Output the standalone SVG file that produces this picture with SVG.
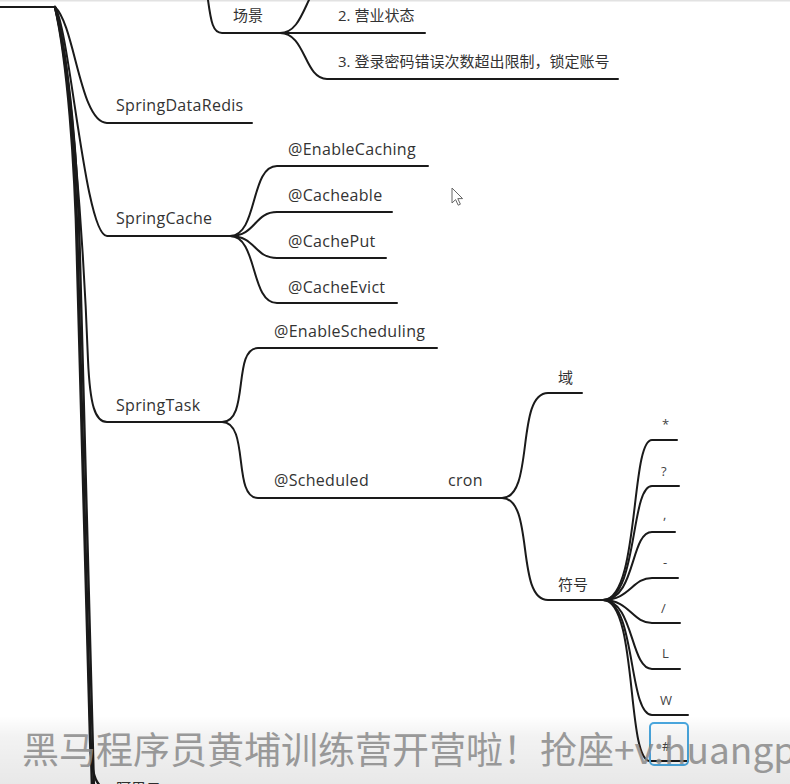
<svg xmlns="http://www.w3.org/2000/svg" width="790" height="784" viewBox="0 0 790 784">
<defs>
<style>
.l{fill:none;stroke:#1a1a1a;stroke-width:2;stroke-linecap:round}
.t{stroke-width:2.4}
.n{font-family:"Open Sans","Noto Sans",sans-serif;font-size:16px;letter-spacing:0.3px;fill:#333}
.c{font-family:"Open Sans","Noto Sans CJK SC",sans-serif;font-size:15px;fill:#333}
.s{font-family:"Open Sans","Noto Sans",sans-serif;font-size:13px;fill:#444}
.wm{font-family:"Noto Sans CJK SC","Noto Sans",sans-serif;font-size:37px;fill:#8a8a8a;opacity:0.85}
</style>
<linearGradient id="band" x1="0" y1="0" x2="0" y2="1">
<stop offset="0" stop-color="#000" stop-opacity="0"/>
<stop offset="0.3" stop-color="#000" stop-opacity="0.05"/>
<stop offset="1" stop-color="#000" stop-opacity="0.09"/>
</linearGradient>
</defs>
<rect width="790" height="784" fill="#fff"/>
<line x1="0" y1="0.8" x2="790" y2="0.8" stroke="#e2e2e2" stroke-width="1.6"/>

<g id="connectors">
<path class="l" d="M0,7 L55,7"/>
<path class="l t" d="M55,7 C68,60 76,160 78,260 L92,790"/>
<path class="l t" d="M55,7 C69,60 78,160 80,260 L94,790"/>
<path class="l t" d="M55,7 C67,60 75,160 77,260 L90,740 C91,776 96,790 114,793"/>
<path class="l" d="M208,0 C211,22 213,33 222,33 L280,33"/>
<path class="l" d="M280,33 C298,33 303,10 313,-8"/>
<path class="l" d="M280,33 L425,33"/>
<path class="l" d="M280,33 C306,33 304,79 327,79 L618,79"/>
<path class="l" d="M55,7 C75,25 80,123 107,123 L252,123"/>
<path class="l" d="M55,7 C70,30 85,236 107,236 L230,236"/>
<path class="l" d="M230,236 C258,236 250,166 277,166 L428,166"/>
<path class="l" d="M230,236 C256,236 254,212 277,212 L392,212"/>
<path class="l" d="M230,236 C256,236 254,258 277,258 L386,258"/>
<path class="l" d="M230,236 C258,236 250,303 277,303 L397,303"/>
<path class="l" d="M55,7 C70,50 84,250 88,360 C90,405 95,422 107,422 L222,422"/>
<path class="l" d="M222,422 C250,422 232,348 258,348 L437,348"/>
<path class="l" d="M222,422 C250,422 232,498 258,498 L502,498"/>
<path class="l" d="M502,498 C535,498 515,393 548,393 L582,393"/>
<path class="l" d="M502,498 C535,498 515,600 548,600 L603,600"/>
<path class="l" d="M603,600 C640,600 630,440 652,440 L677,440"/>
<path class="l" d="M603,600 C638,600 630,486 652,486 L679,486"/>
<path class="l" d="M603,600 C636,600 630,532 652,532 L675,532"/>
<path class="l" d="M603,600 C630,600 632,578 652,578 L678,578"/>
<path class="l" d="M603,600 C630,600 632,623 652,623 L680,623"/>
<path class="l" d="M603,600 C634,600 630,669 652,669 L680,669"/>
<path class="l" d="M603,600 C636,600 628,715 652,715 L688,715"/>
<path class="l" d="M603,600 C638,600 626,761 650,761 L688,761"/>
</g>

<g id="node-scene"><text class="c" x="233" y="21">场景</text></g>
<g id="node-scene-2"><text class="c" x="338" y="21">2. 营业状态</text></g>
<g id="node-scene-3"><text class="c" x="338" y="67">3. 登录密码错误次数超出限制，锁定账号</text></g>
<g id="node-springdataredis"><text class="n" x="116" y="111">SpringDataRedis</text></g>
<g id="node-springcache"><text class="n" x="116" y="224">SpringCache</text></g>
<g id="node-enablecaching"><text class="n" x="288" y="155">@EnableCaching</text></g>
<g id="node-cacheable"><text class="n" x="288" y="201">@Cacheable</text></g>
<g id="node-cacheput"><text class="n" x="288" y="247">@CachePut</text></g>
<g id="node-cacheevict"><text class="n" x="288" y="293">@CacheEvict</text></g>
<g id="node-springtask"><text class="n" x="116" y="411">SpringTask</text></g>
<g id="node-enablescheduling"><text class="n" x="274" y="337">@EnableScheduling</text></g>
<g id="node-scheduled"><text class="n" x="274" y="486">@Scheduled</text></g>
<g id="node-cron"><text class="n" x="448" y="486">cron</text></g>
<g id="node-yu"><text class="c" x="558" y="383">域</text></g>
<g id="node-fuhao"><text class="c" x="558" y="590">符号</text></g>
<g id="node-star"><text class="s" x="662" y="429">*</text></g>
<g id="node-q"><text class="s" x="661" y="476">?</text></g>
<g id="node-comma"><text class="s" x="663" y="519">,</text></g>
<g id="node-dash"><text class="s" x="663" y="567">-</text></g>
<g id="node-slash"><text class="s" x="661" y="613">/</text></g>
<g id="node-L"><text class="s" x="662" y="658">L</text></g>
<g id="node-W"><text class="s" x="660" y="705">W</text></g>
<g id="node-hash">
<rect x="650" y="723" width="38" height="42" rx="4" fill="none" stroke="#4aa8e0" stroke-width="2"/>
<text class="s" x="662" y="751">#</text>
</g>
<g id="node-oss"><text class="c" x="116" y="794" font-size="14">阿里云oss</text></g>

<path d="M452,188 L452,203 L455.6,199.6 L458.2,205.2 L460.4,204.2 L457.8,198.6 L462.6,198.6 Z" fill="#fff" stroke="#666" stroke-width="1"/>

<rect x="0" y="716" width="790" height="68" fill="url(#band)"/>
<text class="wm" x="22" y="764">黑马程序员黄埔训练营开营啦！抢座+v:huangp</text>
</svg>
